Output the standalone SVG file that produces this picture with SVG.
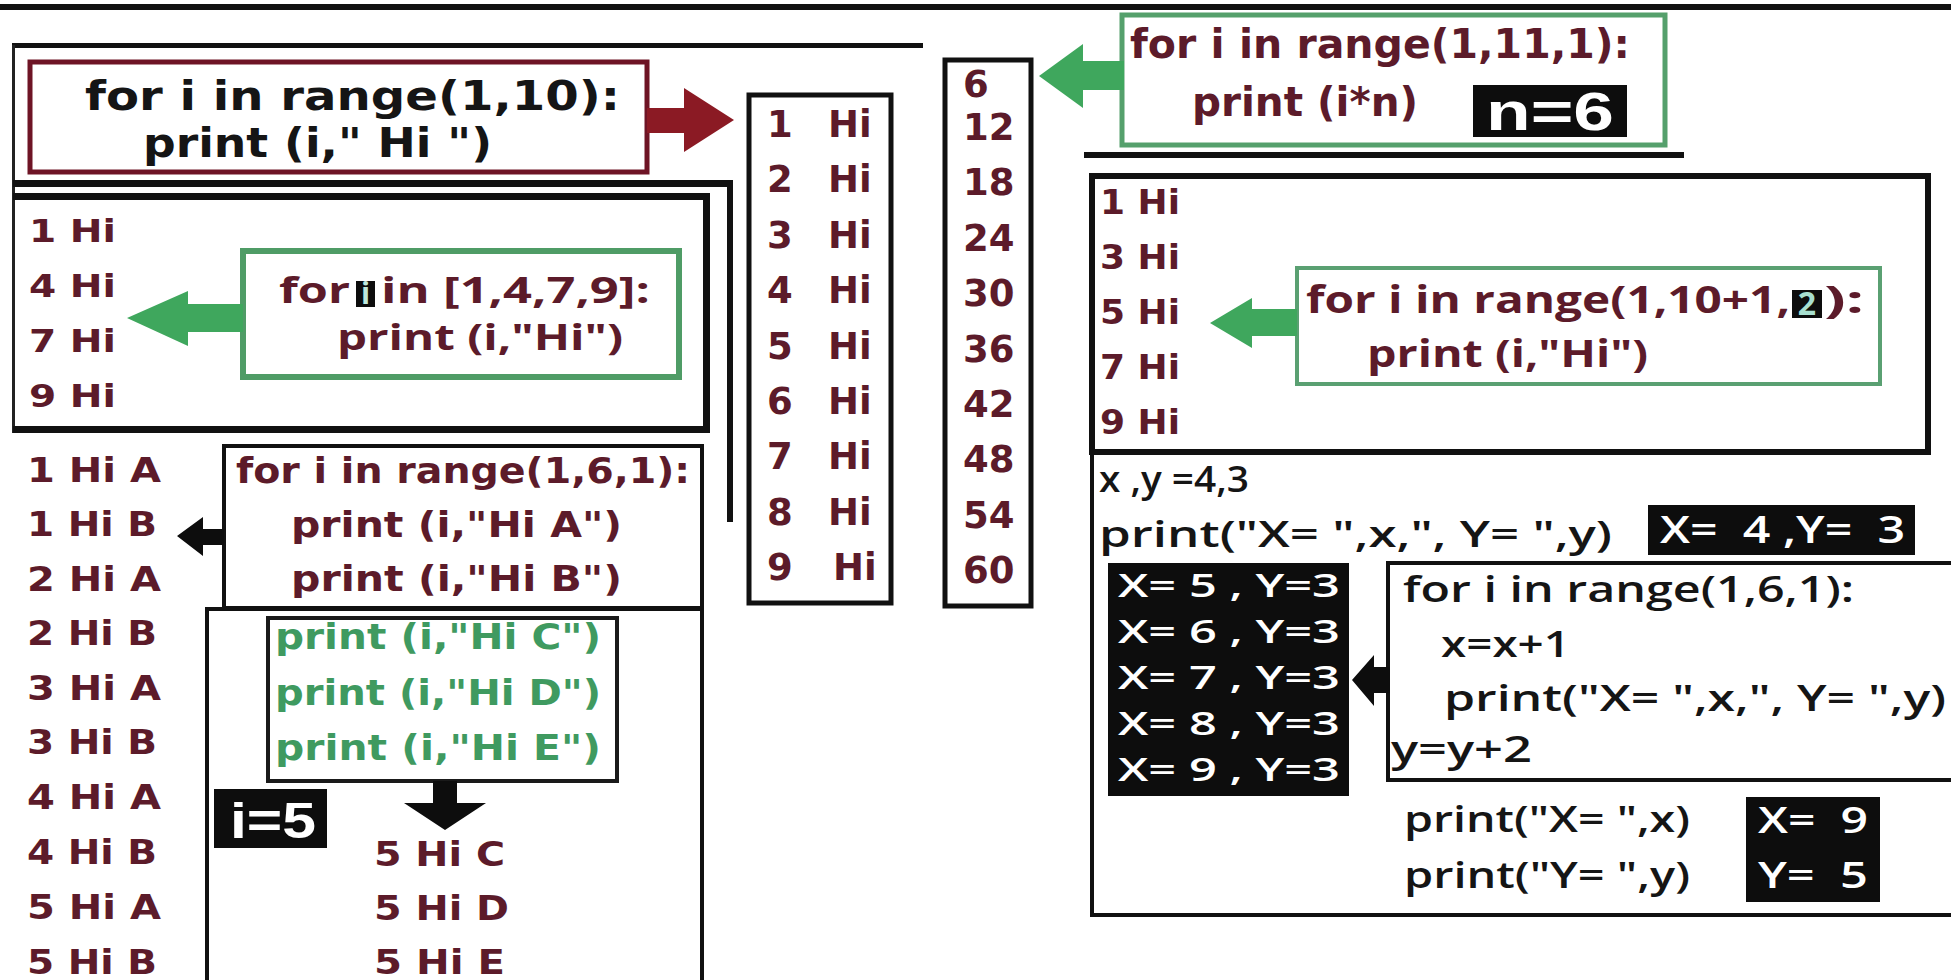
<svg xmlns="http://www.w3.org/2000/svg" width="1951" height="980" viewBox="0 0 1951 980">
<style>
text{font-family:"DejaVu Sans",sans-serif;font-weight:700}
.m{fill:#5c1b2a}
.k{fill:#151515}
.gt{fill:#3f9a60}
.w{fill:#ffffff;white-space:pre}
.o{font-family:"Open Sans",sans-serif;font-weight:600}
.ob{font-family:"Open Sans",sans-serif;font-weight:700}
.ar{font-family:"Liberation Sans",sans-serif;font-weight:700}
.c37{font-size:37px}
.bx{fill:none;stroke:#111;stroke-width:5}
.gb{fill:none;stroke:#55a06c;stroke-width:5}
.blk{fill:#0d0d0d}
.ga{fill:#3fa75d}
.ka{fill:#0d0d0d}
</style>
<rect x="0" y="0" width="1951" height="980" fill="#ffffff"/>
<g id="frame">
  <rect x="0" y="4" width="1951" height="6" fill="#111"/>
  <rect x="12" y="43" width="911" height="5" fill="#111"/>
  <rect x="12" y="45" width="3" height="388" fill="#222"/>
  <rect x="13" y="180" width="720" height="7" fill="#111"/>
  <rect x="727" y="180" width="6" height="342" fill="#111"/>
  <rect x="13" y="193" width="697" height="7" fill="#111"/>
  <rect x="703" y="193" width="7" height="240" fill="#111"/>
  <rect x="13" y="426" width="697" height="7" fill="#111"/>
  <rect x="1084" y="152" width="600" height="6" fill="#111"/>
</g>
<g id="node-range10">
  <rect x="30" y="62" width="617" height="110" fill="none" stroke="#6e1425" stroke-width="5"/>
  <text class="k" x="85" y="110" font-size="40" textLength="535" lengthAdjust="spacingAndGlyphs">for i in range(1,10):</text>
  <text class="k" x="143" y="157" font-size="40" textLength="349" lengthAdjust="spacingAndGlyphs">print (i," Hi ")</text>
</g>
<g id="node-out-hi" class="m c37">
  <rect class="bx" x="749" y="95" width="142" height="508"/>
  <text x="767" y="137">1</text><text x="828" y="137">Hi</text>
  <text x="767" y="192">2</text><text x="828" y="192">Hi</text>
  <text x="767" y="248">3</text><text x="828" y="248">Hi</text>
  <text x="767" y="303">4</text><text x="828" y="303">Hi</text>
  <text x="767" y="359">5</text><text x="828" y="359">Hi</text>
  <text x="767" y="414">6</text><text x="828" y="414">Hi</text>
  <text x="767" y="469">7</text><text x="828" y="469">Hi</text>
  <text x="767" y="525">8</text><text x="828" y="525">Hi</text>
  <text x="767" y="580">9</text><text x="833" y="580">Hi</text>
</g>
<g id="node-out-mult" class="m c37">
  <rect class="bx" x="945" y="60" width="86" height="546"/>
  <text x="963" y="97">6</text>
  <text x="963" y="140">12</text>
  <text x="963" y="195">18</text>
  <text x="963" y="251">24</text>
  <text x="963" y="306">30</text>
  <text x="963" y="362">36</text>
  <text x="963" y="417">42</text>
  <text x="963" y="472">48</text>
  <text x="963" y="528">54</text>
  <text x="963" y="583">60</text>
</g>
<g id="node-range11">
  <rect class="gb" x="1122" y="15" width="543" height="130"/>
  <text class="m" x="1130" y="58" font-size="40" textLength="500" lengthAdjust="spacingAndGlyphs">for i in range(1,11,1):</text>
  <text class="m" x="1192" y="116" font-size="40" textLength="226" lengthAdjust="spacingAndGlyphs">print (i*n)</text>
  <rect class="blk" x="1473" y="85" width="154" height="52"/>
  <text class="w ar" x="1486" y="130" font-size="54" textLength="128" lengthAdjust="spacingAndGlyphs">n=6</text>
</g>
<g id="node-list1479">
  <text class="m" x="29" y="242" font-size="32" textLength="87" lengthAdjust="spacingAndGlyphs">1 Hi</text>
  <text class="m" x="29" y="297" font-size="32" textLength="87" lengthAdjust="spacingAndGlyphs">4 Hi</text>
  <text class="m" x="29" y="352" font-size="32" textLength="87" lengthAdjust="spacingAndGlyphs">7 Hi</text>
  <text class="m" x="29" y="407" font-size="32" textLength="87" lengthAdjust="spacingAndGlyphs">9 Hi</text>
</g>
<g id="node-for-list">
  <rect fill="none" stroke="#4f9c66" stroke-width="6" x="243" y="251" width="436" height="126"/>
  <text class="m ob" x="279" y="303" font-size="36" textLength="71" lengthAdjust="spacingAndGlyphs">for</text>
  <rect class="blk" x="356" y="281" width="19" height="26"/>
  <text x="365.5" y="304" font-size="30" text-anchor="middle" fill="#bfe8dc" class="ob">i</text>
  <text class="m ob" x="381" y="303" font-size="36" textLength="269" lengthAdjust="spacingAndGlyphs">in [1,4,7,9]:</text>
  <text class="m ob" x="337" y="350" font-size="36" textLength="286" lengthAdjust="spacingAndGlyphs">print (i,"Hi")</text>
</g>
<g id="node-odd">
  <rect fill="none" stroke="#111" stroke-width="6" x="1092" y="176" width="836" height="276"/>
  <text class="m" x="1100" y="214" font-size="34" textLength="80" lengthAdjust="spacingAndGlyphs">1 Hi</text>
  <text class="m" x="1100" y="269" font-size="34" textLength="80" lengthAdjust="spacingAndGlyphs">3 Hi</text>
  <text class="m" x="1100" y="324" font-size="34" textLength="80" lengthAdjust="spacingAndGlyphs">5 Hi</text>
  <text class="m" x="1100" y="379" font-size="34" textLength="80" lengthAdjust="spacingAndGlyphs">7 Hi</text>
  <text class="m" x="1100" y="434" font-size="34" textLength="80" lengthAdjust="spacingAndGlyphs">9 Hi</text>
</g>
<g id="node-range-step">
  <rect fill="none" stroke="#5aa072" stroke-width="4" x="1297" y="268" width="583" height="116"/>
  <text class="m ob" x="1306" y="313" font-size="38" textLength="484" lengthAdjust="spacingAndGlyphs">for i in range(1,10+1,</text>
  <rect class="blk" x="1792" y="290" width="30" height="28"/>
  <text class="ob" x="1807" y="315" font-size="32" text-anchor="middle" fill="#a8e0d0">2</text>
  <text class="m ob" x="1824" y="313" font-size="38" textLength="40" lengthAdjust="spacingAndGlyphs">):</text>
  <text class="m ob" x="1367" y="367" font-size="38" textLength="281" lengthAdjust="spacingAndGlyphs">print (i,"Hi")</text>
</g>
<g id="node-xy">
  <path d="M1092,450 V915 H1951" fill="none" stroke="#111" stroke-width="4"/>
  <text class="k o" x="1099" y="492" font-size="36" textLength="150" lengthAdjust="spacingAndGlyphs">x ,y =4,3</text>
  <text class="k o" x="1099" y="547" font-size="36" textLength="513" lengthAdjust="spacingAndGlyphs">print("X= ",x,", Y= ",y)</text>
  <rect class="blk" x="1648" y="505" width="267" height="50"/>
  <text class="w o" x="1660" y="543" font-size="38" textLength="245" lengthAdjust="spacingAndGlyphs">X=  4 ,Y=  3</text>
</g>
<g id="node-xy-loop">
  <path d="M1951,563 H1388 V780 H1951" fill="none" stroke="#111" stroke-width="4"/>
  <text class="k o" x="1403" y="602" font-size="36" textLength="451" lengthAdjust="spacingAndGlyphs">for i in range(1,6,1):</text>
  <text class="k o" x="1441" y="657" font-size="36" textLength="129" lengthAdjust="spacingAndGlyphs">x=x+1</text>
  <text class="k o" x="1444" y="711" font-size="36" textLength="502" lengthAdjust="spacingAndGlyphs">print("X= ",x,", Y= ",y)</text>
  <text class="k o" x="1391" y="762" font-size="36" textLength="141" lengthAdjust="spacingAndGlyphs">y=y+2</text>
</g>
<g id="node-xy-out">
  <rect class="blk" x="1108" y="563" width="241" height="233"/>
  <text class="w o" x="1118" y="597" font-size="32" textLength="222" lengthAdjust="spacingAndGlyphs">X= 5 , Y=3</text>
  <text class="w o" x="1118" y="643" font-size="32" textLength="222" lengthAdjust="spacingAndGlyphs">X= 6 , Y=3</text>
  <text class="w o" x="1118" y="689" font-size="32" textLength="222" lengthAdjust="spacingAndGlyphs">X= 7 , Y=3</text>
  <text class="w o" x="1118" y="735" font-size="32" textLength="222" lengthAdjust="spacingAndGlyphs">X= 8 , Y=3</text>
  <text class="w o" x="1118" y="781" font-size="32" textLength="222" lengthAdjust="spacingAndGlyphs">X= 9 , Y=3</text>
</g>
<g id="node-xy-final">
  <text class="k o" x="1404" y="832" font-size="36" textLength="286" lengthAdjust="spacingAndGlyphs">print("X= ",x)</text>
  <text class="k o" x="1404" y="888" font-size="36" textLength="286" lengthAdjust="spacingAndGlyphs">print("Y= ",y)</text>
  <rect class="blk" x="1746" y="797" width="134" height="105"/>
  <text class="w o" x="1758" y="833" font-size="36" textLength="110" lengthAdjust="spacingAndGlyphs">X=  9</text>
  <text class="w o" x="1758" y="888" font-size="36" textLength="110" lengthAdjust="spacingAndGlyphs">Y=  5</text>
</g>
<g id="node-outAB" class="m">
  <text x="27" y="482" font-size="33" textLength="134" lengthAdjust="spacingAndGlyphs">1 Hi A</text>
  <text x="27" y="536" font-size="33" textLength="130" lengthAdjust="spacingAndGlyphs">1 Hi B</text>
  <text x="27" y="591" font-size="33" textLength="134" lengthAdjust="spacingAndGlyphs">2 Hi A</text>
  <text x="27" y="645" font-size="33" textLength="130" lengthAdjust="spacingAndGlyphs">2 Hi B</text>
  <text x="27" y="700" font-size="33" textLength="134" lengthAdjust="spacingAndGlyphs">3 Hi A</text>
  <text x="27" y="754" font-size="33" textLength="130" lengthAdjust="spacingAndGlyphs">3 Hi B</text>
  <text x="27" y="809" font-size="33" textLength="134" lengthAdjust="spacingAndGlyphs">4 Hi A</text>
  <text x="27" y="864" font-size="33" textLength="130" lengthAdjust="spacingAndGlyphs">4 Hi B</text>
  <text x="27" y="919" font-size="33" textLength="134" lengthAdjust="spacingAndGlyphs">5 Hi A</text>
  <text x="27" y="974" font-size="33" textLength="130" lengthAdjust="spacingAndGlyphs">5 Hi B</text>
</g>
<g id="node-range6">
  <rect fill="none" stroke="#111" stroke-width="4" x="224" y="446" width="478" height="162"/>
  <text class="m" x="236" y="483" font-size="35" textLength="454" lengthAdjust="spacingAndGlyphs">for i in range(1,6,1):</text>
  <text class="m" x="291" y="537" font-size="35" textLength="331" lengthAdjust="spacingAndGlyphs">print (i,"Hi A")</text>
  <text class="m" x="291" y="591" font-size="35" textLength="331" lengthAdjust="spacingAndGlyphs">print (i,"Hi B")</text>
</g>
<g id="node-i5">
  <path d="M207,990 V609 H702 V990" fill="none" stroke="#111" stroke-width="4"/>
  <rect fill="none" stroke="#1a1a1a" stroke-width="4" x="268" y="618" width="349" height="163"/>
  <text class="gt" x="275" y="649" font-size="35" textLength="326" lengthAdjust="spacingAndGlyphs">print (i,"Hi C")</text>
  <text class="gt" x="275" y="705" font-size="35" textLength="326" lengthAdjust="spacingAndGlyphs">print (i,"Hi D")</text>
  <text class="gt" x="275" y="760" font-size="35" textLength="326" lengthAdjust="spacingAndGlyphs">print (i,"Hi E")</text>
  <rect class="blk" x="214" y="789" width="113" height="59"/>
  <text class="w ar" x="230" y="838" font-size="50" font-weight="400" textLength="86" lengthAdjust="spacingAndGlyphs">i=5</text>
  <text class="m" x="374" y="866" font-size="33" textLength="131" lengthAdjust="spacingAndGlyphs">5 Hi C</text>
  <text class="m" x="374" y="920" font-size="33" textLength="135" lengthAdjust="spacingAndGlyphs">5 Hi D</text>
  <text class="m" x="374" y="974" font-size="33" textLength="131" lengthAdjust="spacingAndGlyphs">5 Hi E</text>
</g>
<g id="connectors">
  <polygon fill="#8b1a24" points="647,108 684,108 684,88 734,120 684,152 684,133 647,133"/>
  <polygon class="ga" points="1039,76 1083,44 1083,61 1124,61 1124,90 1083,90 1083,108"/>
  <polygon class="ga" points="127,318 188,291 188,304 243,304 243,332 188,332 188,346"/>
  <polygon class="ga" points="1210,323 1252,298 1252,309 1297,309 1297,336 1252,336 1252,348"/>
  <polygon class="ka" points="1352,680 1374,655 1374,667 1390,667 1390,693 1374,693 1374,706"/>
  <polygon class="ka" points="177,536 203,517 203,529 224,529 224,545 203,545 203,556"/>
  <polygon class="ka" points="433,781 457,781 457,803 486,803 445,830 404,803 433,803"/>
</g>
</svg>
